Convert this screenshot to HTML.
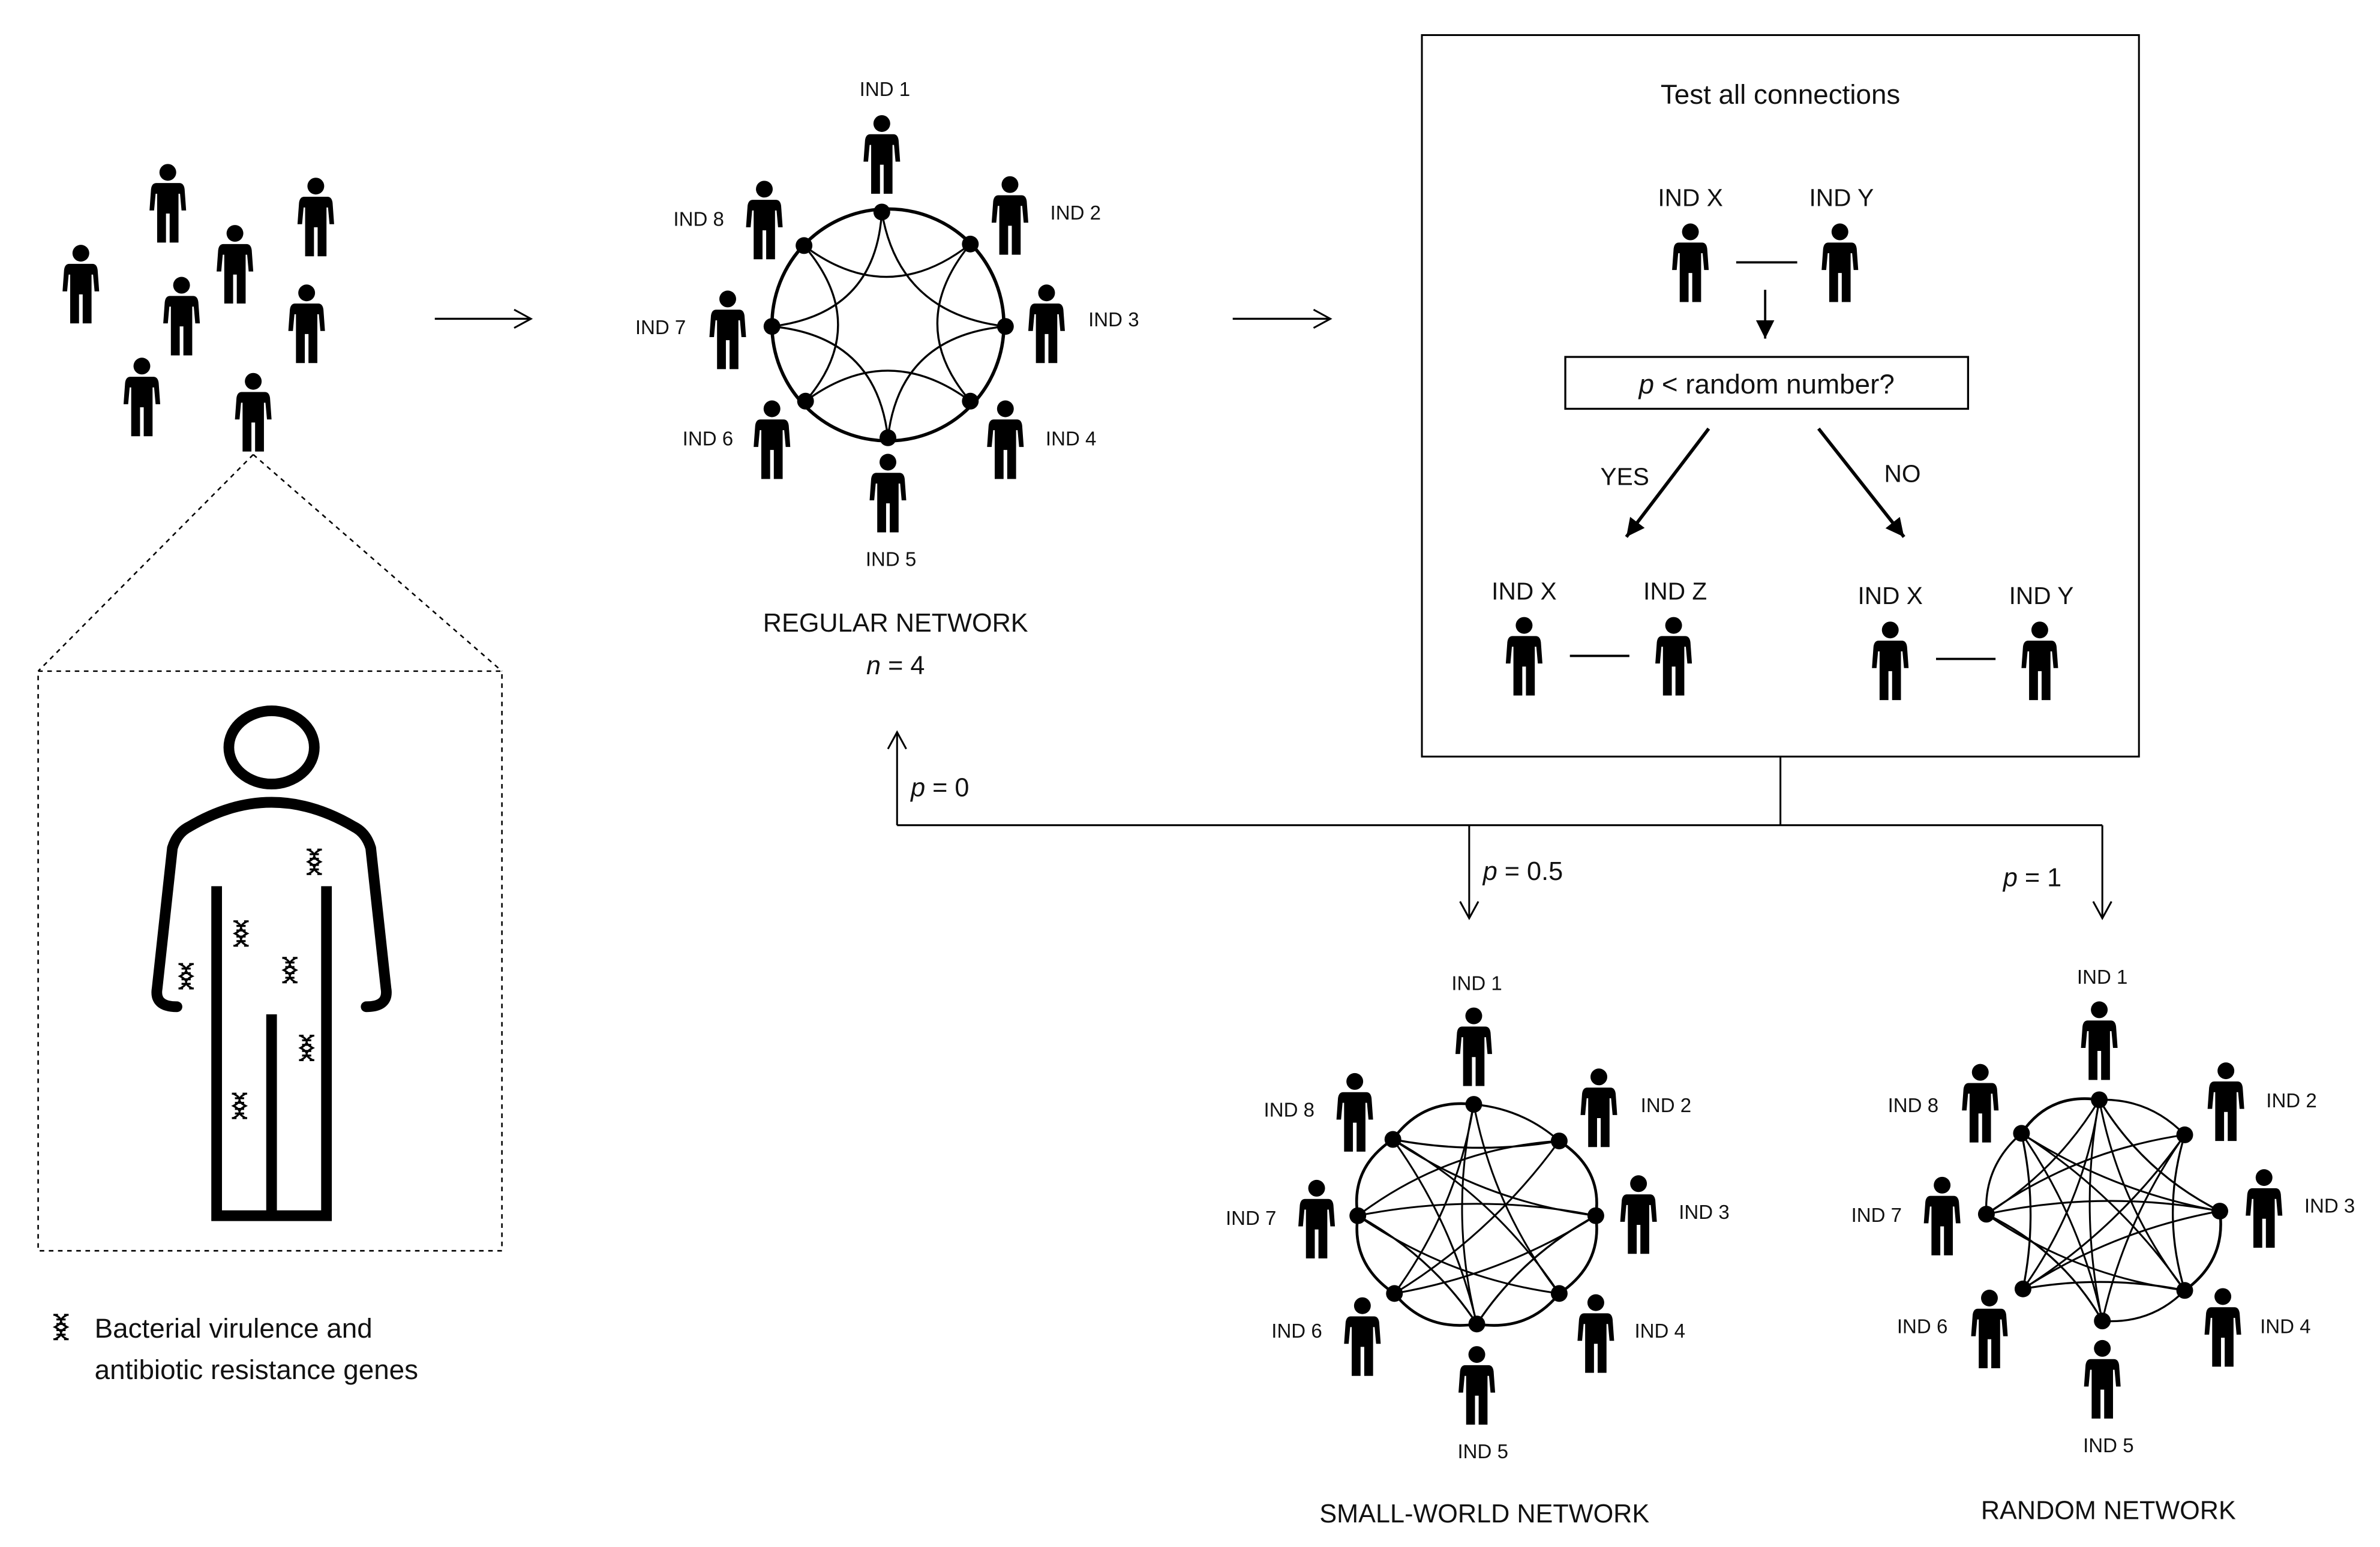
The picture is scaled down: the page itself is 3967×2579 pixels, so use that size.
<!DOCTYPE html>
<html><head><meta charset="utf-8"><style>
html,body{margin:0;padding:0;background:#fff;}
svg{display:block;}
text{font-family:"Liberation Sans",sans-serif;fill:#111;}
</style></head><body>
<svg id="s" width="3967" height="2579" viewBox="0 0 1560 1014.2" preserveAspectRatio="none" xmlns="http://www.w3.org/2000/svg">
<defs>
<symbol id="p" overflow="visible">
<circle cx="0" cy="6" r="5.5" fill="#000"/>
<path d="M-7.5,13 H7.5 Q10.5,13 11,17 L12,31 H9 L8,20 H7 V52 H1.2 V33 H-1.2 V52 H-7 V20 H-8 L-9,31 H-12 L-11,17 Q-10.5,13 -7.5,13Z" fill="#000"/>
</symbol>
<symbol id="dna" overflow="visible">
<path d="M-4,-8 Q4,-4 -4,0 Q4,4 -4,8 M4,-8 Q-4,-4 4,0 Q-4,4 4,8 M-3,-5 H3 M-3,-2 H3 M-3,2 H3 M-3,5 H3 M-5,-8 H-2 M2,-8 H5 M-5,8 H-2 M2,8 H5" fill="none" stroke="#000" stroke-width="1.3"/>
</symbol>
<marker id="oa" markerWidth="14" markerHeight="14" refX="12" refY="7" orient="auto" markerUnits="userSpaceOnUse"><path d="M1,1 L12,7 L1,13" fill="none" stroke="#000" stroke-width="1.2"/></marker>
<marker id="fa" markerWidth="14" markerHeight="14" refX="12" refY="6" orient="auto" markerUnits="userSpaceOnUse"><path d="M0,0 L12,6 L0,12Z" fill="#000"/></marker>
</defs>
<g id="g" stroke-linecap="butt"></g>
</svg>
<script>
var g=document.getElementById('g'),h='';
function P(x,y){h+='<use href="#p" x="'+x+'" y="'+y+'"/>';}
function T(x,y,t,sz,a,ex){h+='<text x="'+x+'" y="'+y+'" font-size="'+(sz||13)+'" text-anchor="'+(a||'middle')+'" '+(ex||'')+'>'+t+'</text>';}
function L(x1,y1,x2,y2,w,ex){h+='<line x1="'+x1+'" y1="'+y1+'" x2="'+x2+'" y2="'+y2+'" stroke="#000" stroke-width="'+(w||1.3)+'" '+(ex||'')+'/>';}
[[110,107],[207,116],[154,147],[53,160],[119,181],[201,186],[93,234],[166,244]].forEach(function(a){P(a[0],a[1]);});
L(285,209,348,209,1.3,'marker-end="url(#oa)"');L(808,209,872,209,1.3,'marker-end="url(#oa)"');
function net(nodes,figs,labs,edges,cx,cy){
 figs.forEach(function(f){P(f[0],f[1]);});
 labs.forEach(function(l,i){T(l[0],l[1]+5,'IND '+(i+1),13);});
 edges.forEach(function(e){var a=nodes[e[0]],b=nodes[e[1]],k=e[2];
  var mx=(a[0]+b[0])/2,my=(a[1]+b[1])/2;var qx=mx+(cx-mx)*k,qy=my+(cy-my)*k;
  if(e[4]){var dx=b[0]-a[0],dy=b[1]-a[1];qx+=-dy*e[4];qy+=dx*e[4];}
  h+='<path d="M'+a[0]+','+a[1]+' Q'+qx+','+qy+' '+b[0]+','+b[1]+'" fill="none" stroke="#000" stroke-width="'+(e[3]||1.3)+'"/>';});
 nodes.forEach(function(n){h+='<circle cx="'+n[0]+'" cy="'+n[1]+'" r="5.5" fill="#000"/>';});
}
var rn=[[578,139],[636,160],[659,214],[636,263],[582,287],[528,263],[506,214],[527,161]];
h+='<circle cx="582" cy="213" r="76" fill="none" stroke="#000" stroke-width="2.2"/>';
var re=[];for(var i=0;i<8;i++)re.push([i,(i+2)%8,0.8]);
net(rn,[[578,75],[662,115],[686,186],[659,262],[582,297],[506,262],[477,190],[501,118]],
 [[580,58],[705,139],[730,209],[702,287],[584,366],[464,287],[433,214],[458,143]],re,582,213);
T(587,414,'REGULAR NETWORK',17);T(587,442,'<tspan font-style="italic">n</tspan> = 4',17);
h+='<rect x="932" y="23" width="470" height="473" fill="none" stroke="#000" stroke-width="1.2"/>';
T(1167,68,'Test all connections',18);
T(1108,135,'IND X',16);T(1207,135,'IND Y',16);P(1108,146);P(1206,146);L(1138,172,1178,172,1.5);
L(1157,190,1157,222,1.5,'marker-end="url(#fa)"');
h+='<rect x="1026" y="234" width="264" height="34" fill="none" stroke="#000" stroke-width="1.3"/>';
T(1158,258,'<tspan font-style="italic">p</tspan> &lt; random number?',18);
L(1120,281,1066,352,2.2,'marker-end="url(#fa)"');L(1192,281,1248,352,2.2,'marker-end="url(#fa)"');
T(1065,318,'YES',16);T(1247,316,'NO',16);
T(999,393,'IND X',16);T(1098,393,'IND Z',16);P(999,404);P(1097,404);L(1029,430,1068,430,1.5);
T(1239,396,'IND X',16);T(1338,396,'IND Y',16);P(1239,407);P(1337,407);L(1269,432,1308,432,1.5);
L(1167,496,1167,541,1.2);L(588,541,1378,541,1.2);
L(588,541,588,480,1.2,'marker-end="url(#oa)"');L(963,541,963,602,1.2,'marker-end="url(#oa)"');L(1378,541,1378,602,1.2,'marker-end="url(#oa)"');
T(597,522,'<tspan font-style="italic">p</tspan> = 0',17,'start');T(972,577,'<tspan font-style="italic">p</tspan> = 0.5',17,'start');T(1313,581,'<tspan font-style="italic">p</tspan> = 1',17,'start');
var sn=[[966,724],[1022,748],[1046,797],[1022,848],[968,868],[914,848],[890,797],[913,747]];
var se=[[0,7,-0.25,1.8],[7,6,-0.25,1.8],[6,5,-0.25,1.8],[1,2,-0.25,1.8],[2,3,-0.25,1.8],[3,4,-0.25,1.8],[4,5,-0.25,1.8],[0,1,-0.15,1.3],
[0,4,0,1.2,0.12],[0,3,0,1.2,0.12],[0,5,0,1.2,-0.12],[1,6,0,1.2,0.15],[1,5,0,1.2,-0.1],[1,7,0.2],[2,6,0,1.2,0.1],[2,7,0,1.2,-0.12],[3,7,0,1.2,0.12],[3,6,0,1.2,-0.12],[4,2,0.25],[5,2,0,1.2,0.1],[6,4,0.25],[7,4,0,1.2,-0.1]];
net(sn,[[966,660],[1048,700],[1074,770],[1046,848],[968,882],[893,850],[863,773],[888,703]],
 [[968,644],[1092,724],[1117,794],[1088,872],[972,951],[850,872],[820,798],[845,727]],se,968,797);
T(973,998,'SMALL-WORLD NETWORK',17);
var ran=[[1376,721],[1432,744],[1455,794],[1432,846],[1378,866],[1326,845],[1302,796],[1325,743]];
var rae=[[0,7,-0.25,1.8],[7,6,-0.2],[2,3,-0.25,1.8],[3,4,-0.2],[0,1,-0.2],
[0,4,0,1.2,0.1],[0,3,0,1.2,0.12],[0,5,0,1.2,-0.12],[0,2,0.3],[0,6,0,1.2,-0.12],[1,6,0,1.2,0.12],[1,5,0,1.2,-0.1],[1,4,0,1.2,0.1],[2,6,0,1.2,0.1],[2,7,0,1.2,-0.1],[2,5,0,1.2,0.1],[3,7,0,1.2,0.1],[3,6,0,1.2,-0.12],[4,6,0.3],[4,7,0,1.2,0.1],[5,7,0.2],[5,3,0.2],[1,3,0.3]];
net(ran,[[1376,656],[1459,696],[1484,766],[1457,844],[1378,878],[1304,845],[1273,771],[1298,697]],
 [[1378,640],[1502,721],[1527,790],[1498,869],[1382,947],[1260,869],[1230,796],[1254,724]],rae,1380,795);
T(1382,996,'RANDOM NETWORK',17);
L(166,298,25,440,1,'stroke-dasharray="3,3"');L(166,298,329,440,1,'stroke-dasharray="3,3"');
h+='<rect x="25" y="440" width="304" height="380" fill="none" stroke="#000" stroke-width="1" stroke-dasharray="3,3"/>';
h+='<ellipse cx="178" cy="490" rx="28" ry="24" fill="none" stroke="#000" stroke-width="7"/>';
h+='<path d="M116,660 Q101,660 103,648 L113,556 Q116,546 124,542 Q178,510 232,542 Q240,546 243,556 L253,648 Q255,660 240,660" fill="none" stroke="#000" stroke-width="7" stroke-linecap="round"/>';
h+='<path d="M142,581 V797 H214 V581" fill="none" stroke="#000" stroke-width="7"/>';
L(178,665,178,797,7);
[[206,565],[158,612],[190,636],[122,640],[201,687],[157,725]].forEach(function(a){h+='<use href="#dna" x="'+a[0]+'" y="'+a[1]+'"/>';});
h+='<use href="#dna" x="40" y="870"/>';
T(62,877,'Bacterial virulence and',18,'start');T(62,904,'antibiotic resistance genes',18,'start');
g.innerHTML=h;
</script>
</body></html>
